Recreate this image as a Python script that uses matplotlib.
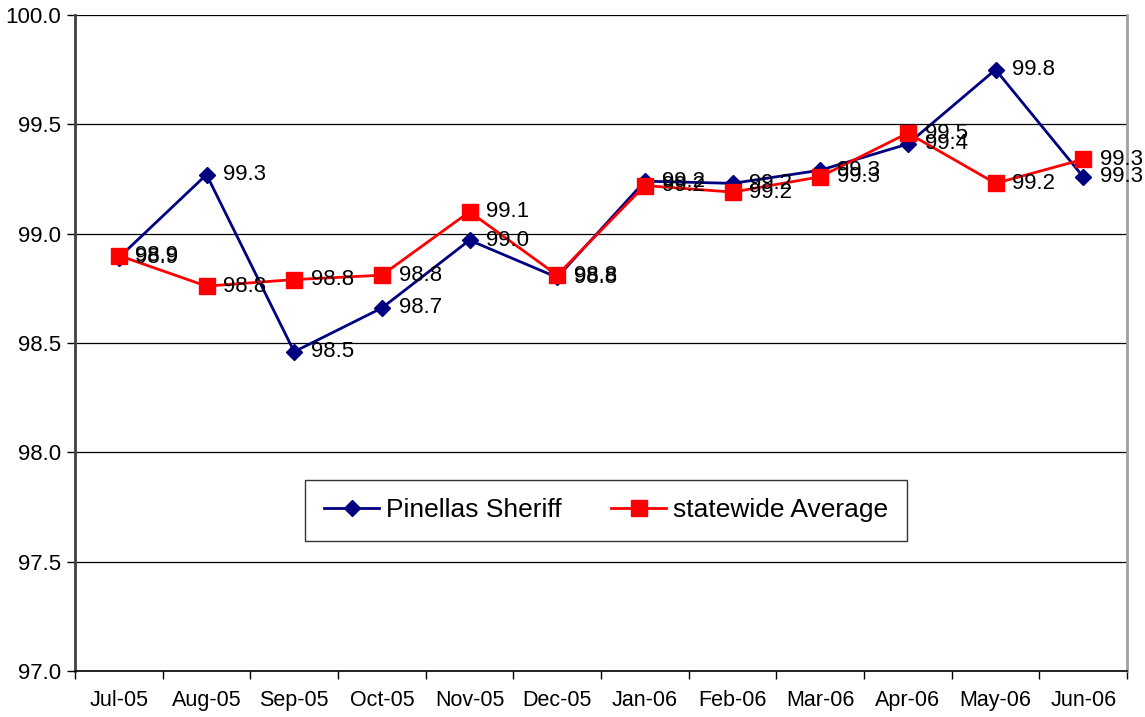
import matplotlib
matplotlib.use("Agg")
import matplotlib.pyplot as plt
import numpy as np
from matplotlib.ticker import FixedLocator, FormatStrFormatter

# Data
months = ["Jul-05", "Aug-05", "Sep-05", "Oct-05", "Nov-05", "Dec-05",
          "Jan-06", "Feb-06", "Mar-06", "Apr-06", "May-06", "Jun-06"]
pinellas = [98.89, 99.27, 98.46, 98.66, 98.97, 98.80,
            99.24, 99.23, 99.29, 99.41, 99.75, 99.26]
statewide = [98.90, 98.76, 98.79, 98.81, 99.10, 98.81,
             99.22, 99.19, 99.26, 99.46, 99.23, 99.34]

# Colors
c_PINELLAS = "#000080"
c_STATE = "#FF0000"

plt.rcParams["font.family"] = ["Liberation Sans", "DejaVu Sans"]

fig = plt.figure(figsize=(11.45, 7.17), dpi=100)
ax = fig.add_axes([0.0655, 0.0642, 0.9188, 0.9149])

x = np.arange(len(months))

ax.plot(x, pinellas, color=c_PINELLAS, linewidth=2, marker="D", markersize=8,
        label="Pinellas Sheriff", zorder=3)
ax.plot(x, statewide, color=c_STATE, linewidth=2, marker="s", markersize=11.5,
        label="statewide Average", zorder=4)

# Data labels
for xi, v in zip(x, pinellas):
    ax.annotate("%.1f" % v, (xi, v), xytext=(12, 0), textcoords="offset points",
                va="center", ha="left", fontsize=16, zorder=5)
for xi, v in zip(x, statewide):
    ax.annotate("%.1f" % v, (xi, v), xytext=(12, 0), textcoords="offset points",
                va="center", ha="left", fontsize=16, zorder=5)

# Axes
ax.set_xlim(-0.5, len(months) - 0.5)
ax.set_ylim(97.0, 100.0)
ax.yaxis.set_major_locator(FixedLocator(np.arange(97.0, 100.01, 0.5)))
ax.yaxis.set_major_formatter(FormatStrFormatter("%.1f"))
ax.yaxis.grid(True, color="black", linewidth=0.9)
ax.set_axisbelow(True)

ax.xaxis.set_major_locator(FixedLocator(np.arange(-0.5, len(months), 1.0)))
ax.xaxis.set_minor_locator(FixedLocator(x))
ax.set_xticklabels([])
ax.set_xticklabels(months, minor=True)
ax.tick_params(axis="x", which="major", length=6, width=1, direction="out")
ax.tick_params(axis="x", which="minor", length=0, pad=14, labelsize=15.5)
ax.tick_params(axis="y", length=6, width=1, direction="out", labelsize=16, pad=4)

ax.spines["left"].set_color("#404040")
ax.spines["left"].set_linewidth(2)
ax.spines["bottom"].set_color("black")
ax.spines["bottom"].set_linewidth(1.2)
ax.spines["right"].set_color("#a0a0a0")
ax.spines["right"].set_linewidth(2)
ax.spines["top"].set_visible(False)

leg = ax.legend(loc="center", bbox_to_anchor=(0.505, 0.245), ncol=2, fontsize=19,
                frameon=True, fancybox=False, edgecolor="black", borderpad=0.7,
                handlelength=2.1, columnspacing=1.85, handletextpad=0.27)
leg.get_frame().set_linewidth(1)

fig.savefig("out.png", dpi=100)
plt.close(fig)
